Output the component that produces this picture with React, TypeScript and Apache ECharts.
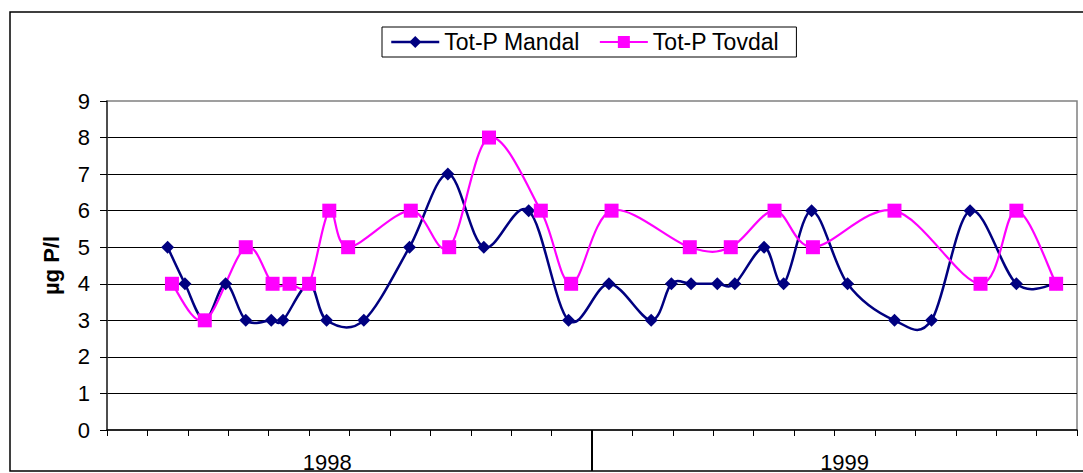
import { useEffect, useRef } from 'react';
import * as echarts from 'echarts';

// ---- data ----
const mandalDates = [
  '1998-02-15', '1998-02-27', '1998-03-14', '1998-03-30', '1998-04-14',
  '1998-05-03', '1998-05-12', '1998-06-01', '1998-06-14', '1998-07-12',
  '1998-08-16', '1998-09-14', '1998-10-11', '1998-11-14', '1998-12-14',
  '1999-01-14', '1999-02-14', '1999-02-28', '1999-03-15', '1999-04-04',
  '1999-04-17', '1999-05-09', '1999-05-24', '1999-06-14', '1999-07-11',
  '1999-08-16', '1999-09-13', '1999-10-12', '1999-11-16', '1999-12-16',
];
const mandalValues = [5, 4, 3, 4, 3, 3, 3, 4, 3, 3, 5, 7, 5, 6, 3, 4, 3, 4, 4, 4, 4, 5, 4, 6, 4, 3, 3, 6, 4, 4];

const tovdalDates = [
  '1998-02-18', '1998-03-14', '1998-04-14', '1998-05-04', '1998-05-17',
  '1998-06-01', '1998-06-16', '1998-06-30', '1998-08-17', '1998-09-15',
  '1998-10-15', '1998-11-23', '1998-12-16', '1999-01-16', '1999-03-14',
  '1999-04-14', '1999-05-17', '1999-06-15', '1999-08-16', '1999-10-20',
  '1999-11-16', '1999-12-16',
];
const tovdalValues = [4, 3, 5, 4, 4, 4, 6, 5, 6, 5, 8, 6, 4, 6, 5, 5, 6, 5, 6, 4, 6, 4];

const seriesNames = ['Tot-P Mandal', 'Tot-P Tovdal'];
const yearLabels = ['1998', '1999'];
const yAxisTitle = 'µg P/l';

// ---- layout / style ----
const START_YEAR = 1998;
const MONTHS = 24;
const yearLabelMonths = [5.45, 18.25];
const FONT = '"Liberation Sans", Arial, sans-serif';
const NAVY = '#000080';
const MAGENTA = '#FF00FF';

function toMonths(s: string): number {
  const [y, m, d] = s.split('-').map(Number);
  const dim = new Date(y, m, 0).getDate();
  return (y - START_YEAR) * 12 + (m - 1) + (d - 1) / dim;
}

// Excel-like smoothing (Catmull-Rom converted to cubic Bezier)
function smoothPath(pts: number[][]): string {
  if (!pts.length) return '';
  let d = `M${pts[0][0]},${pts[0][1]}`;
  const n = pts.length;
  for (let i = 0; i < n - 1; i++) {
    const p0 = pts[Math.max(0, i - 1)];
    const p1 = pts[i];
    const p2 = pts[i + 1];
    const p3 = pts[Math.min(n - 1, i + 2)];
    const c1x = p1[0] + (p2[0] - p0[0]) / 6;
    const c1y = p1[1] + (p2[1] - p0[1]) / 6;
    const c2x = p2[0] - (p3[0] - p1[0]) / 6;
    const c2y = p2[1] - (p3[1] - p1[1]) / 6;
    d += ` C${c1x},${c1y} ${c2x},${c2y} ${p2[0]},${p2[1]}`;
  }
  return d;
}

function curveSeries(points: number[][], color: string, width: number) {
  return {
    type: 'custom',
    silent: true,
    data: points,
    encode: { x: 0, y: 1 },
    renderItem: (params: any, api: any) => {
      if (params.dataIndex !== 0) return { type: 'group', children: [] };
      const px = points.map((p) => api.coord(p));
      return {
        type: 'path',
        shape: { pathData: smoothPath(px) },
        style: { fill: 'none', stroke: color, lineWidth: width },
      };
    },
  };
}

export default function App() {
  const ref = useRef<HTMLDivElement>(null);

  useEffect(() => {
    if (!ref.current) return;
    const chart = echarts.init(ref.current, null, { renderer: 'svg' });

    const mandal = mandalDates.map((d, i) => [toMonths(d), mandalValues[i]]);
    const tovdal = tovdalDates.map((d, i) => [toMonths(d), tovdalValues[i]]);

    chart.setOption({
      animation: false,
      textStyle: { fontFamily: FONT },
      grid: {
        left: 107,
        top: 101,
        right: 6,
        bottom: 43,
        show: true,
        borderColor: '#808080',
        borderWidth: 1.5,
        backgroundColor: 'transparent',
      },
      legend: {
        left: 382,
        top: 27,
        padding: [3, 17, 3, 8],
        itemGap: 19,
        itemWidth: 48,
        itemHeight: 15,
        borderColor: '#000',
        borderWidth: 1,
        backgroundColor: '#fff',
        textStyle: { fontFamily: FONT, fontSize: 23, color: '#000', lineHeight: 24 },
        data: [
          { name: seriesNames[0], lineStyle: { color: NAVY, width: 2.5, opacity: 1 } },
          { name: seriesNames[1], lineStyle: { color: MAGENTA, width: 2.2, opacity: 1 } },
        ],
      },
      xAxis: {
        type: 'value',
        min: 0,
        max: MONTHS,
        interval: 1,
        axisLabel: { show: false },
        axisLine: { show: true, lineStyle: { color: '#000', width: 1.5 } },
        axisTick: { show: true, inside: false, length: 6, lineStyle: { color: '#000', width: 1 } },
        splitLine: { show: false },
      },
      yAxis: {
        type: 'value',
        min: 0,
        max: 9,
        interval: 1,
        name: yAxisTitle,
        nameLocation: 'middle',
        nameGap: 45,
        nameTextStyle: { fontFamily: FONT, fontSize: 22, fontWeight: 'bold', color: '#000' },
        axisLabel: { fontFamily: FONT, fontSize: 22, color: '#000', margin: 17 },
        axisLine: { show: true, lineStyle: { color: '#333', width: 1.5 } },
        axisTick: { show: true, inside: false, length: 7, lineStyle: { color: '#000', width: 1 } },
        splitLine: { show: true, showMaxLine: false, showMinLine: false, lineStyle: { color: '#000', width: 1 } },
      },
      series: [
        curveSeries(mandal, NAVY, 2.5),
        {
          name: seriesNames[0],
          type: 'line',
          data: mandal,
          symbol: 'diamond',
          symbolSize: 13,
          lineStyle: { color: NAVY, width: 2.5, opacity: 0 },
          itemStyle: { color: NAVY },
        },
        curveSeries(tovdal, MAGENTA, 2.2),
        {
          name: seriesNames[1],
          type: 'line',
          data: tovdal,
          symbol: 'rect',
          symbolSize: 14,
          lineStyle: { color: MAGENTA, width: 2.2, opacity: 0 },
          itemStyle: { color: MAGENTA },
        },
      ],
    });

    const sepX = chart.convertToPixel({ xAxisIndex: 0 }, 12) as number;
    const baseY = chart.convertToPixel({ yAxisIndex: 0 }, 0) as number;
    const yearTexts = yearLabels.map((t, i) => ({
      type: 'text',
      x: chart.convertToPixel({ xAxisIndex: 0 }, yearLabelMonths[i]) as number,
      y: baseY + 43,
      style: {
        text: t,
        fontFamily: FONT,
        fontSize: 22,
        lineHeight: 22,
        fill: '#000',
        textAlign: 'center',
        textVerticalAlign: 'bottom',
      },
      z: 50,
    }));

    chart.setOption({
      graphic: [
        {
          type: 'line',
          shape: { x1: sepX, y1: baseY, x2: sepX, y2: baseY + 41 },
          style: { stroke: '#000', lineWidth: 2 },
          z: 50,
        },
        ...yearTexts,
        {
          type: 'rect',
          shape: { x: 10, y: 12, width: 1100, height: 459 },
          style: { fill: 'none', stroke: '#000', lineWidth: 1.5 },
          z: 100,
        },
      ],
    });

    return () => chart.dispose();
  }, []);

  return (
    <div
      ref={ref}
      style={{ position: 'fixed', left: 0, top: 0, width: 1083, height: 473, background: '#fff' }}
    />
  );
}
